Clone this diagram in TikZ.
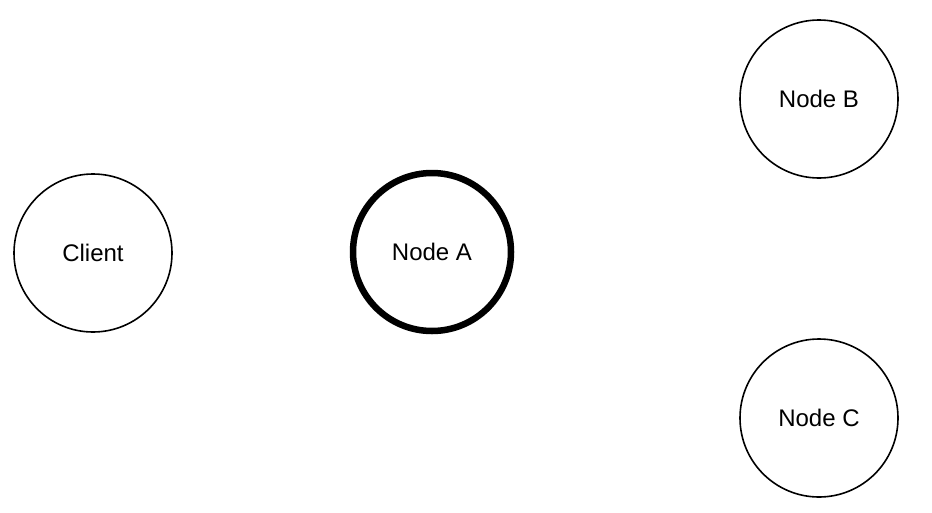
\documentclass[tikz,border=0pt]{standalone}
\usepackage{fontspec}
\setmainfont{Liberation Sans}
\begin{document}
\begin{tikzpicture}[x=1pt,y=-1pt,
  peer/.style={circle,draw=black,line width=1.6pt,minimum size=158pt,inner sep=0pt,font=\fontsize{24}{27}\selectfont},
  leader/.style={peer,line width=6.5pt}]
\useasboundingbox (0,0) rectangle (932,512);
\node[peer] (client) at (93,253) {Client};
\node[leader] (a) at (432,252) {Node A};
\node[peer] (b) at (819,99) {Node B};
\node[peer] (c) at (819,418) {Node C};
\end{tikzpicture}
\end{document}
